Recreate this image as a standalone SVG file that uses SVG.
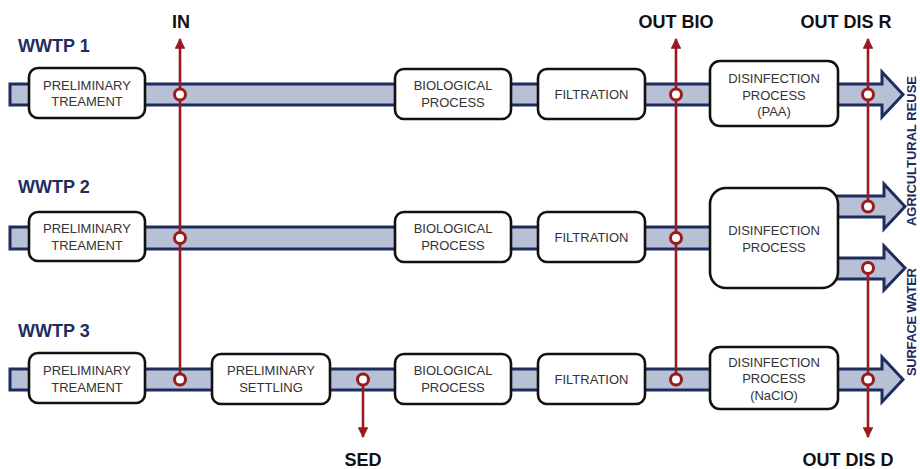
<svg xmlns="http://www.w3.org/2000/svg" width="920" height="469" viewBox="0 0 920 469">
<defs>
<style>
.pipe{fill:#b7c0d4;stroke:#1e2c5e;stroke-width:3;stroke-linejoin:miter}
.box{fill:#fff;stroke:#111;stroke-width:2.6}
.bt{font-family:"Liberation Sans",Arial,sans-serif;font-size:13px;fill:#333;text-anchor:middle}
.lbl{font-family:"Liberation Sans",Arial,sans-serif;font-size:18px;font-weight:bold;fill:#111;text-anchor:middle}
.ww{font-family:"Liberation Sans",Arial,sans-serif;font-size:18px;font-weight:bold;fill:#1e2c5e}
.side{font-family:"Liberation Sans",Arial,sans-serif;font-size:13px;font-weight:bold;fill:#1e2c5e;text-anchor:middle}
.red{stroke:#9a1b1f;stroke-width:2.6;fill:none}
.dot{fill:#fff;stroke:#9a1b1f;stroke-width:3}
</style>
<marker id="ah" viewBox="0 0 10 10" refX="9" refY="5" markerWidth="4.2" markerHeight="4.2" markerUnits="strokeWidth" orient="auto">
<path d="M0,0 L10,5 L0,10 z" fill="#9a1b1f"/>
</marker>
</defs>
<rect width="920" height="469" fill="#fff"/>

<g id="pipes">
<polygon class="pipe" points="10,84 882,84 882,72 903,94.5 882,117 882,105 10,105"/>
<polygon class="pipe" points="10,227 720,227 720,249 10,249"/>
<polygon class="pipe" points="830,196 884,196 884,184 905,206.5 884,229 884,217 830,217"/>
<polygon class="pipe" points="830,258 884,258 884,246 905,268 884,290 884,279 830,279"/>
<polygon class="pipe" points="10,369 882,369 882,357 903,379.5 882,402 882,390 10,390"/>
</g>

<g id="labels">
<text class="ww" x="18" y="52">WWTP 1</text>
<text class="ww" x="18" y="193">WWTP 2</text>
<text class="ww" x="18" y="337">WWTP 3</text>
<text class="lbl" x="181" y="28">IN</text>
<text class="lbl" x="676" y="28">OUT BIO</text>
<text class="lbl" x="846" y="28">OUT DIS R</text>
<text class="lbl" x="363" y="466">SED</text>
<text class="lbl" x="848" y="466">OUT DIS D</text>
<text class="side" transform="translate(916,151) rotate(-90)" textLength="150" lengthAdjust="spacing">AGRICULTURAL REUSE</text>
<text class="side" transform="translate(916,322) rotate(-90)" textLength="108" lengthAdjust="spacing">SURFACE WATER</text>
</g>

<g id="wwtp1">
<g id="n1-pre"><rect class="box" x="29" y="68" width="116" height="50" rx="9"/><text class="bt" x="87" y="90">PRELIMINARY</text><text class="bt" x="87" y="106">TREAMENT</text></g>
<g id="n1-bio"><rect class="box" x="395" y="69" width="116" height="50" rx="9"/><text class="bt" x="453" y="90">BIOLOGICAL</text><text class="bt" x="453" y="107">PROCESS</text></g>
<g id="n1-fil"><rect class="box" x="538" y="69" width="107" height="50" rx="9"/><text class="bt" x="591.5" y="99">FILTRATION</text></g>
<g id="n1-dis"><rect class="box" x="710" y="61" width="128" height="65" rx="10"/><text class="bt" x="774" y="83">DISINFECTION</text><text class="bt" x="774" y="100">PROCESS</text><text class="bt" x="774" y="116">(PAA)</text></g>
</g>

<g id="wwtp2">
<g id="n2-pre"><rect class="box" x="29" y="212" width="116" height="49" rx="9"/><text class="bt" x="87" y="233">PRELIMINARY</text><text class="bt" x="87" y="250">TREAMENT</text></g>
<g id="n2-bio"><rect class="box" x="395" y="212" width="116" height="50" rx="9"/><text class="bt" x="453" y="233">BIOLOGICAL</text><text class="bt" x="453" y="250">PROCESS</text></g>
<g id="n2-fil"><rect class="box" x="538" y="212" width="107" height="50" rx="9"/><text class="bt" x="591.5" y="242">FILTRATION</text></g>
<g id="n2-dis"><rect class="box" x="710" y="188" width="128" height="100" rx="16"/><text class="bt" x="774" y="235">DISINFECTION</text><text class="bt" x="774" y="252">PROCESS</text></g>
</g>

<g id="wwtp3">
<g id="n3-pre"><rect class="box" x="29" y="353" width="116" height="50" rx="9"/><text class="bt" x="87" y="375">PRELIMINARY</text><text class="bt" x="87" y="392">TREAMENT</text></g>
<g id="n3-set"><rect class="box" x="212" y="354" width="118" height="50" rx="9"/><text class="bt" x="271" y="375">PRELIMINARY</text><text class="bt" x="271" y="392">SETTLING</text></g>
<g id="n3-bio"><rect class="box" x="395" y="354" width="116" height="50" rx="9"/><text class="bt" x="453" y="375">BIOLOGICAL</text><text class="bt" x="453" y="392">PROCESS</text></g>
<g id="n3-fil"><rect class="box" x="538" y="354" width="107" height="50" rx="9"/><text class="bt" x="591.5" y="384">FILTRATION</text></g>
<g id="n3-dis"><rect class="box" x="710" y="347" width="128" height="62" rx="10"/><text class="bt" x="774" y="367">DISINFECTION</text><text class="bt" x="774" y="383">PROCESS</text><text class="bt" x="774" y="400">(NaClO)</text></g>
</g>

<g id="connectors">
<line class="red" x1="180" y1="379" x2="180" y2="39" marker-end="url(#ah)"/>
<line class="red" x1="676" y1="379" x2="676" y2="39" marker-end="url(#ah)"/>
<line class="red" x1="868" y1="206" x2="868" y2="39" marker-end="url(#ah)"/>
<line class="red" x1="868" y1="268" x2="868" y2="437" marker-end="url(#ah)"/>
<line class="red" x1="363" y1="379" x2="363" y2="437" marker-end="url(#ah)"/>
<circle class="dot" cx="180" cy="94.5" r="5.5"/>
<circle class="dot" cx="180" cy="238" r="5.5"/>
<circle class="dot" cx="180" cy="379.5" r="5.5"/>
<circle class="dot" cx="676" cy="94.5" r="5.5"/>
<circle class="dot" cx="676" cy="238" r="5.5"/>
<circle class="dot" cx="676" cy="379.5" r="5.5"/>
<circle class="dot" cx="868" cy="94.5" r="5.5"/>
<circle class="dot" cx="868" cy="206.5" r="5.5"/>
<circle class="dot" cx="868" cy="268" r="5.5"/>
<circle class="dot" cx="868" cy="379.5" r="5.5"/>
<circle class="dot" cx="363" cy="379.5" r="5.5"/>
</g>
</svg>
